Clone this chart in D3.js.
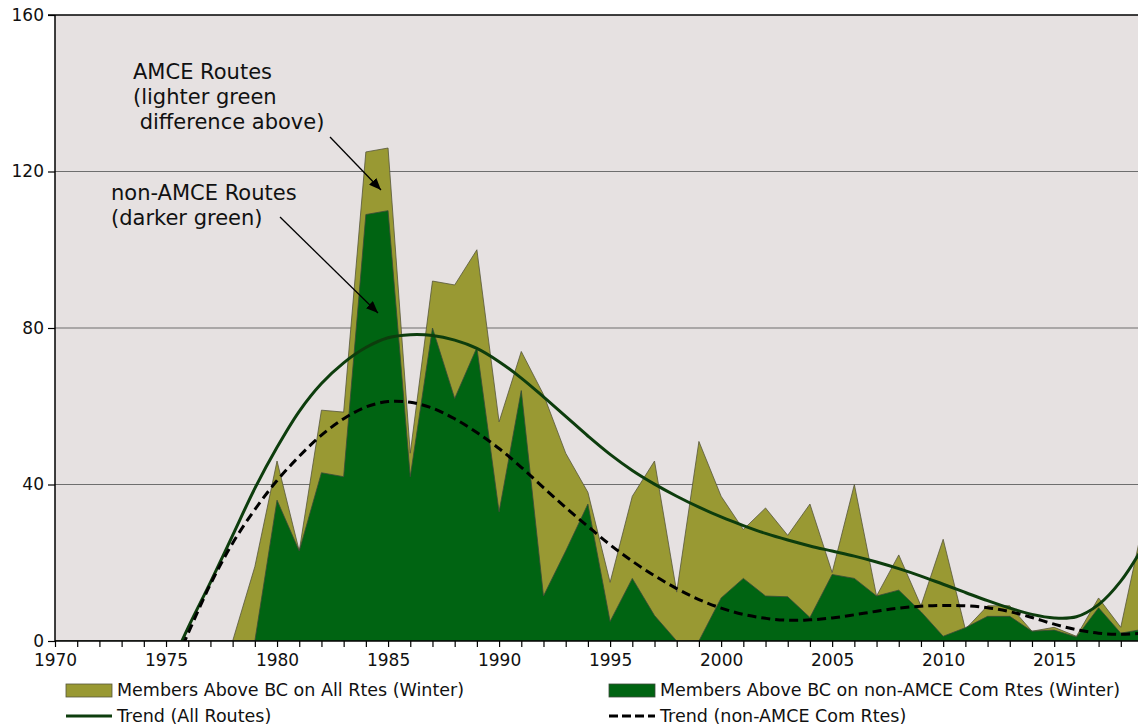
<html>
<meta charset="utf-8" />
<head>
<title>Members Above BC (Winter)</title>
<script src="https://cdn.jsdelivr.net/npm/d3@7"></script>
<style>
	body { margin: 0; background: #ffffff; }
	svg { display: block; font-family: 'DejaVu Sans', Verdana, sans-serif; }
</style>

<script>
// years on the x axis
let years = d3.range(1970, 2020);

// Members Above BC on All Rtes (Winter)
let allRoutes = [0, 0, 0, 0, 0, 0, 0, 0, 0, 19,
	46, 23, 59, 58.5, 125, 126, 48, 92, 91, 100,
	56, 74, 63, 48, 38, 15, 37, 46, 12.5, 51,
	37, 28.5, 34, 27, 35, 17.5, 40, 11.5, 22, 9,
	26, 3, 9, 9, 2.5, 3.5, 1.2, 11, 3.5, 30];

// Members Above BC on non-AMCE Com Rtes (Winter)
let nonAmce = [0, 0, 0, 0, 0, 0, 0, 0, 0, 0,
	36, 23, 43, 42, 109, 110, 42, 80, 62, 75,
	33, 64, 11.5, 23, 35, 5, 16, 6.5, 0, 0,
	11, 16, 11.5, 11.3, 6, 17, 16, 11.5, 13, 7.5,
	1.2, 3.4, 6.3, 6.3, 2.5, 2.8, 1, 8.5, 2, 3];

// Trend (All Routes), starts 1975
let trendAll = [null, null, null, null, null, -9, 3.5, 15, 27, 39,
	49.5, 58.7, 65.8, 71.1, 75, 77.5, 78.3, 78.1, 76.9, 74.8,
	71.4, 67.2, 62.4, 57.4, 52.4, 47.7, 43.6, 40.1, 37, 34.2,
	31.7, 29.5, 27.5, 25.8, 24.3, 23, 21.7, 20.2, 18.5, 16.6,
	14.5, 12.4, 10.3, 8.4, 6.8, 5.9, 6.2, 9.3, 15.3, 24];

// Trend (non-AMCE Com Rtes), starts 1975
let trendNon = [null, null, null, null, null, -11, 2, 14.5, 25, 33.6,
	41, 47.2, 52.6, 56.8, 59.8, 61.2, 61, 59.5, 56.8, 53.3,
	49.2, 44.4, 39.2, 34.1, 29.3, 24.6, 20.4, 16.7, 13.4, 10.6,
	8.4, 6.8, 5.8, 5.3, 5.4, 5.9, 6.7, 7.6, 8.4, 8.9,
	9.1, 9, 8.5, 7.5, 6, 4.3, 2.9, 2, 1.7, 2];

let yTicks = [0, 40, 80, 120, 160];
let xLabelYears = [1970, 1975, 1980, 1985, 1990, 1995, 2000, 2005, 2010, 2015];

let legendItems = [
	'Members Above BC on All Rtes (Winter)',
	'Members Above BC on non-AMCE Com Rtes (Winter)',
	'Trend (All Routes)',
	'Trend (non-AMCE Com Rtes)'
];

window.onload = function() {
	let svg = d3.select('svg');

	let xScale = d3.scaleLinear().domain([1970, 2019]).range([55, 1143]);
	let yScale = d3.scaleLinear().domain([0, 160]).range([641, 15]);

	let olive = '#999933';
	let darkGreen = '#006412';
	let trendGreen = '#0d3d0d';

	// 플롯 영역 clip
	svg.append('defs').append('clipPath').attr('id', 'plotClip')
	.append('rect')
	.attr('x', 55).attr('y', 15)
	.attr('width', 1143 - 55).attr('height', 641 - 15);

	svg.select('defs').append('marker')
	.attr('id', 'arrow')
	.attr('viewBox', '0 0 12 10')
	.attr('refX', 12).attr('refY', 5)
	.attr('markerWidth', 12).attr('markerHeight', 10)
	.attr('markerUnits', 'userSpaceOnUse')
	.attr('orient', 'auto')
	.append('path')
	.attr('d', 'M0,0 L12,5 L0,10 z')
	.attr('fill', '#000');

	// background
	svg.append('rect')
	.attr('x', 55).attr('y', 15)
	.attr('width', 1143 - 55).attr('height', 641 - 15)
	.attr('fill', '#e6e1e1');

	// gridlines
	svg.append('g').selectAll('line.grid')
	.data(yTicks.filter((d) => { return d > 0 && d < 160; }))
	.enter().append('line')
	.attr('class', 'grid')
	.attr('x1', 55).attr('x2', 1143)
	.attr('y1', (d) => { return yScale(d); })
	.attr('y2', (d) => { return yScale(d); })
	.attr('stroke', '#6e6e6e')
	.attr('stroke-width', 1.2);

	let plot = svg.append('g').attr('clip-path', 'url(#plotClip)');

	let allArea = d3.area()
	.x((d, i) => { return xScale(years[i]); })
	.y0(yScale(0))
	.y1((d) => { return yScale(d); });

	plot.append('path')
	.attr('d', allArea(allRoutes))
	.attr('fill', olive)
	.attr('stroke', '#55553a')
	.attr('stroke-width', 0.8);

	plot.append('path')
	.attr('d', allArea(nonAmce))
	.attr('fill', darkGreen)
	.attr('stroke', '#3a4a3a')
	.attr('stroke-width', 0.8);

	// 추세선 (smooth)
	let trendLine = d3.line()
	.defined((d) => { return d !== null; })
	.x((d, i) => { return xScale(years[i]); })
	.y((d) => { return yScale(d); })
	.curve(d3.curveCatmullRom.alpha(0.5));

	plot.append('path')
	.attr('d', trendLine(trendAll))
	.attr('fill', 'none')
	.attr('stroke', trendGreen)
	.attr('stroke-width', 3);

	plot.append('path')
	.attr('d', trendLine(trendNon))
	.attr('fill', 'none')
	.attr('stroke', '#000')
	.attr('stroke-width', 3)
	.attr('stroke-dasharray', '9,5');

	// axes
	let yAxis = d3.axisLeft(yScale).tickValues(yTicks).tickSize(7).tickPadding(4);
	let yG = svg.append('g').attr('transform', 'translate(55,0)').call(yAxis);

	let xAxis = d3.axisBottom(xScale)
	.tickValues(years.slice(0, 49))
	.tickSize(6).tickPadding(7)
	.tickFormat((d) => { return xLabelYears.indexOf(d) >= 0 ? d : ''; });
	let xG = svg.append('g').attr('transform', 'translate(0,641)').call(xAxis);

	[xG, yG].forEach((g) => {
		g.select('.domain').attr('stroke', '#000').attr('stroke-width', 1.5);
		g.selectAll('.tick line').attr('stroke', '#000').attr('stroke-width', 1.2);
		g.selectAll('.tick text').attr('font-size', 17).attr('fill', '#111')
		.attr('font-family', "'DejaVu Sans', Verdana, sans-serif");
	});
	xG.select('.domain').attr('d', 'M55,0H1143');
	yG.select('.domain').attr('d', 'M0,641V15');

	// top border of plot
	svg.append('line')
	.attr('x1', 48).attr('x2', 1143)
	.attr('y1', 15).attr('y2', 15)
	.attr('stroke', '#000').attr('stroke-width', 1.5);

	// annotations
	let note1 = svg.append('text').attr('font-size', 21).attr('fill', '#111');
	note1.append('tspan').attr('x', 133).attr('y', 79).text('AMCE Routes');
	note1.append('tspan').attr('x', 133).attr('y', 104).text('(lighter green');
	note1.append('tspan').attr('x', 133).attr('y', 129).attr('xml:space', 'preserve').text(' difference above)');

	let note2 = svg.append('text').attr('font-size', 21).attr('fill', '#111');
	note2.append('tspan').attr('x', 111).attr('y', 200).text('non-AMCE Routes');
	note2.append('tspan').attr('x', 111).attr('y', 225).text('(darker green)');

	svg.append('line')
	.attr('x1', 330).attr('y1', 137).attr('x2', 381).attr('y2', 190)
	.attr('stroke', '#000').attr('stroke-width', 1.3)
	.attr('marker-end', 'url(#arrow)');

	svg.append('line')
	.attr('x1', 280).attr('y1', 217).attr('x2', 378).attr('y2', 313)
	.attr('stroke', '#000').attr('stroke-width', 1.3)
	.attr('marker-end', 'url(#arrow)');

	// legend
	let legend = svg.append('g').attr('font-size', 17.5).attr('fill', '#111');
	let lx = [66, 609];
	let ly = [690, 716];

	legend.append('rect')
	.attr('x', lx[0]).attr('y', ly[0] - 6).attr('width', 46).attr('height', 13)
	.attr('fill', olive).attr('stroke', '#55553a').attr('stroke-width', 0.8);
	legend.append('rect')
	.attr('x', lx[1]).attr('y', ly[0] - 6).attr('width', 46).attr('height', 13)
	.attr('fill', darkGreen).attr('stroke', '#3a4a3a').attr('stroke-width', 0.8);
	legend.append('line')
	.attr('x1', lx[0]).attr('x2', lx[0] + 46).attr('y1', ly[1]).attr('y2', ly[1])
	.attr('stroke', trendGreen).attr('stroke-width', 3);
	legend.append('line')
	.attr('x1', lx[1]).attr('x2', lx[1] + 46).attr('y1', ly[1]).attr('y2', ly[1])
	.attr('stroke', '#000').attr('stroke-width', 3).attr('stroke-dasharray', '9,4');

	legend.selectAll('text')
	.data(legendItems).enter()
	.append('text')
	.attr('x', (d, i) => { return lx[i % 2] + 51; })
	.attr('y', (d, i) => { return ly[Math.floor(i / 2)]; })
	.attr('dy', '0.36em')
	.text((d) => { return d; });
}
</script>
</head>
<body>
<svg width="1138" height="728"></svg>
</body>
</html>
